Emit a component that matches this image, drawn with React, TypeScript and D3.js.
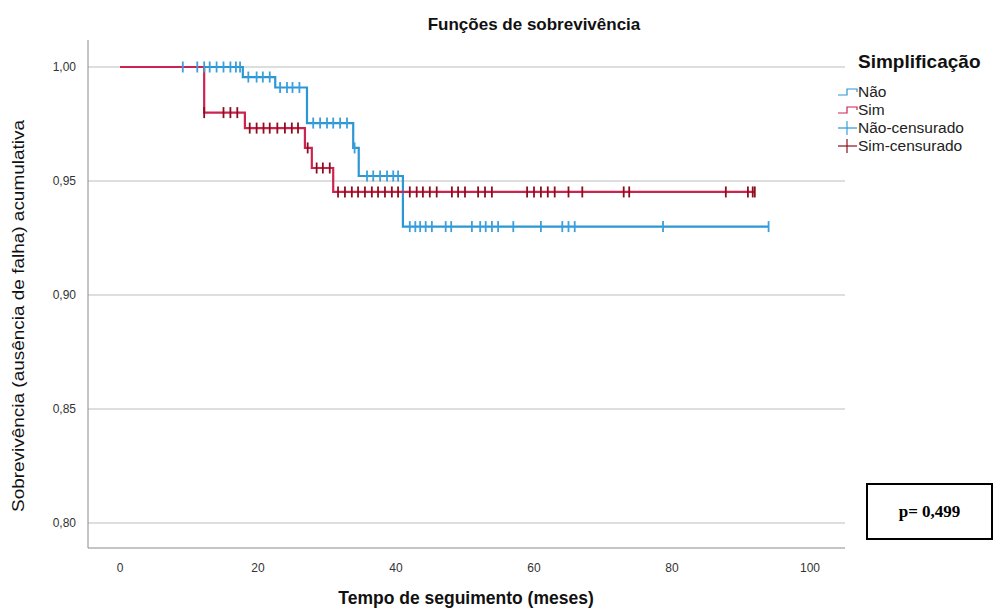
import React from 'react';
import * as d3 from 'd3';

// Kaplan-Meier steps: [month, survival after event]
const naoEvents: [number, number][] = [
  [17.8, 0.9956], [22.5, 0.991], [27.1, 0.9754], [33.8, 0.9645], [34.6, 0.9522], [41, 0.93],
];
const naoCensored = [
  9.1, 11.2, 12.2, 13, 14, 15, 16, 16.8, 17.4,
  18.6, 19.8, 20.7, 21.7, 23.2, 24.2, 25, 26,
  28, 29, 30, 30.9, 31.9, 32.9, 34,
  35.8, 36.7, 37.7, 38.7, 39.6, 40.3,
  42, 42.8, 43.5, 44.3, 45.2, 47.2, 48, 51, 52.2, 53, 53.9, 54.8, 57, 61, 64.1, 65, 65.9, 78.7, 94,
];
const naoEnd = 94;

const simEvents: [number, number][] = [
  [12.2, 0.98], [18.1, 0.9732], [26.8, 0.9645], [27.8, 0.9557], [30.9, 0.9452],
];
const simCensored = [
  12.2, 15, 16, 17,
  18.8, 19.8, 20.8, 21.7, 22.8, 23.9, 24.9, 25.8, 27.2,
  28.5, 29.4, 30.4,
  31.6, 32.6, 33.6, 34.5, 35.5, 36.5, 37.4, 38.4, 39.4, 40.3,
  42, 43, 43.9, 44.9, 45.9, 48.1, 49, 50, 51.9, 52.9, 53.9,
  59, 60, 61, 62, 63, 65, 67, 73, 73.8, 87.8, 91, 91.7, 92,
];
const simEnd = 92;

const xTicks = [0, 20, 40, 60, 80, 100];
const yTicks = [0.8, 0.85, 0.9, 0.95, 1.0];

const legendItems = ['Não', 'Sim', 'Não-censurado', 'Sim-censurado'];

const BLUE = '#2b97d5';
const BLUE_C = '#3a9fdc';
const RED = '#cc2450';
const RED_C = '#8c101c';
const FONT = 'Arial, "Liberation Sans", sans-serif';

const margin = { left: 88, top: 40, right: 845, bottom: 548 };

function survAt(events: [number, number][], t: number) {
  let s = 1;
  events.forEach(([et, v]) => { if (t >= et) s = v; });
  return s;
}

export default function App() {
  const x = d3.scaleLinear().domain([0, 100]).range([120, 810]);
  const y = d3.scaleLinear().domain([0.8, 1.0]).range([523, 67]);

  const stepLine = d3.line<[number, number]>()
    .x(d => x(d[0]))
    .y(d => y(d[1]))
    .curve(d3.curveStepAfter);

  const curvePoints = (events: [number, number][], end: number): [number, number][] => {
    const pts: [number, number][] = [[0, 1], ...events];
    pts.push([end, events[events.length - 1][1]]);
    return pts;
  };

  const marks = (times: number[], events: [number, number][], color: string, key: string) =>
    times.map((t, i) => {
      const cx = x(t);
      const cy = y(survAt(events, t));
      return (
        <line key={key + i} x1={cx} x2={cx} y1={cy - 5.5} y2={cy + 5.5}
          stroke={color} strokeWidth={1.8} />
      );
    });

  return (
    <svg width={1006} height={611} style={{ display: 'block', position: 'absolute', left: 0, top: 0, background: '#fff' }}
      fontFamily={FONT}>
      <rect width={1006} height={611} fill="#fff" />

      {/* title */}
      <text x={534} y={30} textAnchor="middle" fontSize={17} fontWeight="bold" fill="#111">
        Funções de sobrevivência
      </text>

      {/* gridlines */}
      {yTicks.map(t => (
        <line key={'g' + t} x1={margin.left} x2={margin.right} y1={y(t)} y2={y(t)}
          stroke="#bdbdbd" strokeWidth={1} />
      ))}

      {/* axes */}
      <line x1={margin.left} x2={margin.left} y1={margin.top} y2={margin.bottom} stroke="#8a8a8a" strokeWidth={1} />
      <line x1={margin.left} x2={margin.right} y1={margin.bottom} y2={margin.bottom} stroke="#8a8a8a" strokeWidth={1} />

      {yTicks.map(t => (
        <text key={'yt' + t} x={76} y={y(t) + 4} textAnchor="end" fontSize={12} fill="#333">
          {d3.format('.2f')(t).replace('.', ',')}
        </text>
      ))}
      {xTicks.map(t => (
        <text key={'xt' + t} x={x(t)} y={572} textAnchor="middle" fontSize={12} fill="#333">
          {t}
        </text>
      ))}

      {/* axis titles */}
      <text x={466} y={604} textAnchor="middle" fontSize={17.5} fontWeight="bold" fill="#111">
        Tempo de seguimento (meses)
      </text>
      <text transform="translate(24,316) rotate(-90)" textAnchor="middle" fontSize={16.5} fill="#111"
        textLength={392} lengthAdjust="spacingAndGlyphs">
        Sobrevivência (ausência de falha) acumulativa
      </text>

      {/* curves */}
      <path d={stepLine(curvePoints(naoEvents, naoEnd)) || ''} fill="none" stroke={BLUE} strokeWidth={2.2} />
      <path d={stepLine(curvePoints(simEvents, simEnd)) || ''} fill="none" stroke={RED} strokeWidth={2.2} />
      {marks(naoCensored, naoEvents, BLUE_C, 'n')}
      {marks(simCensored, simEvents, RED_C, 's')}

      {/* legend */}
      <text x={858} y={68} fontSize={19} fontWeight="bold" fill="#111">Simplificação</text>
      {legendItems.map((label, i) => {
        const ly = 92 + i * 18;
        const color = i % 2 === 0 ? BLUE : RED;
        const tick = i % 2 === 0 ? BLUE_C : RED_C;
        return (
          <g key={label}>
            {i < 2 ? (
              <path d={`M838,${ly + 3}H847V${ly - 3}H857V${ly}`} fill="none" stroke={color} strokeWidth={1.2} />
            ) : (
              <g>
                <line x1={838} x2={857} y1={ly} y2={ly} stroke={i === 2 ? BLUE : RED_C} strokeWidth={1.2} />
                <line x1={847} x2={847} y1={ly - 7} y2={ly + 7} stroke={tick} strokeWidth={1.2} />
              </g>
            )}
            <text x={858} y={ly + 5} fontSize={15.5} fill="#222">{label}</text>
          </g>
        );
      })}

      {/* p-value box */}
      <rect x={867} y={484} width={125} height={55} fill="#fff" stroke="#000" strokeWidth={2} />
      <text x={929.5} y={517} textAnchor="middle" fontFamily='"Liberation Serif", "Times New Roman", serif'
        fontSize={17} fontWeight="bold" fill="#000">p= 0,499</text>
    </svg>
  );
}
